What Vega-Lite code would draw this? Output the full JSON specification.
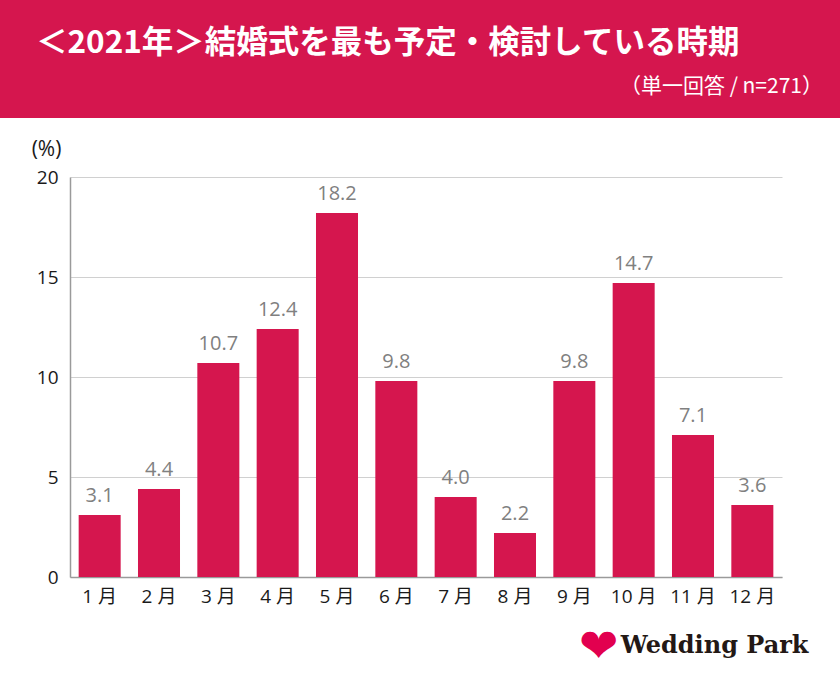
{
  "$schema": "https://vega.github.io/schema/vega-lite/v6.json",
  "padding": 0,
  "spacing": 0,
  "bounds": "flush",
  "background": "white",
  "config": {"view": {"stroke": null}},
  "title": {
    "text": "❤",
    "orient": "bottom",
    "anchor": "start",
    "offset": -55,
    "dx": 579,
    "color": "#E2004F",
    "font": "DejaVu Sans",
    "fontSize": 47,
    "fontWeight": "normal"
  },
  "vconcat": [
    {
      "width": 840,
      "height": 118,
      "view": {"fill": "#D5164E", "stroke": null},
      "title": {
        "text": "＜2021年＞結婚式を最も予定・検討している時期",
        "orient": "top",
        "anchor": "start",
        "frame": "group",
        "offset": -59,
        "dx": 36,
        "color": "white",
        "font": "Noto Sans CJK JP",
        "fontSize": 31.5,
        "fontWeight": "bold"
      },
      "data": {"values": [{}]},
      "mark": {"type": "text"},
      "encoding": {"text": {"value": ""}}
    },
    {
      "width": 840,
      "height": 562,
      "title": {
        "text": "（単一回答 / n=271）",
        "orient": "top",
        "anchor": "end",
        "frame": "group",
        "offset": 21,
        "dx": -17,
        "color": "white",
        "font": "Noto Sans CJK JP",
        "fontSize": 21,
        "fontWeight": "normal"
      },
      "data": {
        "values": [
          {"month": "1月", "value": 3.1},
          {"month": "2月", "value": 4.4},
          {"month": "3月", "value": 10.7},
          {"month": "4月", "value": 12.4},
          {"month": "5月", "value": 18.2},
          {"month": "6月", "value": 9.8},
          {"month": "7月", "value": 4.0},
          {"month": "8月", "value": 2.2},
          {"month": "9月", "value": 9.8},
          {"month": "10月", "value": 14.7},
          {"month": "11月", "value": 7.1},
          {"month": "12月", "value": 3.6}
        ]
      },
      "encoding": {
        "x": {
          "field": "month",
          "type": "nominal",
          "sort": null,
          "scale": {"range": [70, 782], "paddingInner": 0.292, "paddingOuter": 0.146},
          "axis": {
            "orient": "bottom",
            "offset": -103,
            "labelAngle": 0,
            "ticks": false,
            "domainColor": "#9a9a9a",
            "domainWidth": 1.5,
            "labelPadding": 10,
            "labelFont": "Open Sans, Noto Sans CJK JP",
            "labelFontSize": 19,
            "labelColor": "#1a1a1a",
            "labelExpr": "replace(datum.label, '月', ' 月')",
            "title": "Wedding Park",
            "titleX": 808,
            "titleY": 68,
            "titleAlign": "right",
            "titleBaseline": "middle",
            "titleFont": "DejaVu Serif",
            "titleFontSize": 24,
            "titleFontWeight": "bold",
            "titleColor": "#231815"
          }
        },
        "y": {
          "field": "value",
          "type": "quantitative",
          "scale": {"domain": [0, 20], "range": [459, 59], "nice": false},
          "axis": {
            "offset": -70,
            "values": [0, 5, 10, 15, 20],
            "ticks": false,
            "grid": true,
            "gridColor": "#d0d0d0",
            "gridWidth": 1,
            "domainColor": "#9a9a9a",
            "domainWidth": 1.5,
            "labelPadding": 12,
            "labelFont": "Open Sans",
            "labelFontSize": 19,
            "labelColor": "#1a1a1a",
            "title": "(%)",
            "titleAngle": 0,
            "titleX": -24,
            "titleY": 31,
            "titleAlign": "center",
            "titleBaseline": "middle",
            "titleFont": "Open Sans",
            "titleFontSize": 21,
            "titleFontWeight": "normal",
            "titleColor": "#1a1a1a"
          }
        }
      },
      "layer": [
        {"mark": {"type": "bar", "color": "#D5164E"}},
        {
          "mark": {
            "type": "text",
            "baseline": "alphabetic",
            "dy": -13,
            "font": "Open Sans",
            "fontSize": 20,
            "color": "#808080"
          },
          "encoding": {"text": {"field": "value", "type": "quantitative", "format": ".1f"}}
        }
      ]
    }
  ]
}
